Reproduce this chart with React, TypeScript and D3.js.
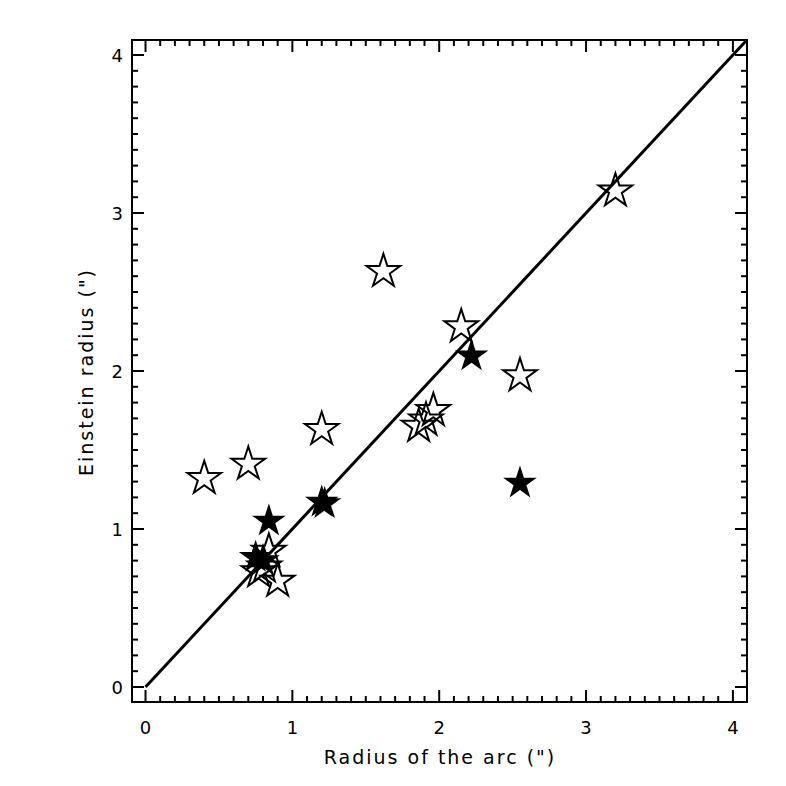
import React, { useEffect, useRef } from 'react';
import * as d3 from 'd3';

// open stars: radius of the arc vs Einstein radius
const openX = [3.2, 1.62, 2.15, 2.55, 1.96, 1.91, 1.86, 1.2, 0.4, 0.7, 0.84, 0.77, 0.81, 0.9];
const openY = [3.14, 2.63, 2.28, 1.97, 1.75, 1.69, 1.65, 1.63, 1.32, 1.41, 0.86, 0.73, 0.76, 0.67];

// filled stars
const fillX = [2.22, 2.55, 1.2, 1.22, 0.84, 0.75, 0.8];
const fillY = [2.095, 1.29, 1.17, 1.16, 1.05, 0.82, 0.8];

const tickVals = [0, 1, 2, 3, 4];

export default function App() {
  const ref = useRef<SVGSVGElement>(null);

  useEffect(() => {
    const width = 786;
    const height = 786;
    const left = 132;
    const right = 747;
    const top = 40;
    const bottom = 702;
    const font = 'DejaVu Sans, sans-serif';

    const x = d3.scaleLinear().domain([-0.092, 4.096]).range([left, right]);
    const y = d3.scaleLinear().domain([-0.095, 4.095]).range([bottom, top]);

    const svg = d3.select(ref.current).attr('viewBox', [0, 0, width, height]);
    svg.selectAll('*').remove();

    svg.append('rect').attr('width', width).attr('height', height).attr('fill', 'white');

    svg
      .append('clipPath')
      .attr('id', 'plotclip')
      .append('rect')
      .attr('x', left)
      .attr('y', top)
      .attr('width', right - left)
      .attr('height', bottom - top);

    const minor = d3.range(0, 41).map((d) => d / 10);
    const g = svg.append('g').attr('stroke', 'black').attr('stroke-width', 2);

    // ticks on all four sides
    minor.forEach((v) => {
      const major = Math.abs(v - Math.round(v)) < 1e-6;
      const len = major ? 12 : 6;
      g.append('line').attr('x1', x(v)).attr('x2', x(v)).attr('y1', bottom).attr('y2', bottom - len);
      g.append('line').attr('x1', x(v)).attr('x2', x(v)).attr('y1', top).attr('y2', top + len);
      g.append('line').attr('y1', y(v)).attr('y2', y(v)).attr('x1', left).attr('x2', left + len);
      g.append('line').attr('y1', y(v)).attr('y2', y(v)).attr('x1', right).attr('x2', right - len);
    });

    g.append('rect')
      .attr('x', left)
      .attr('y', top)
      .attr('width', right - left)
      .attr('height', bottom - top)
      .attr('fill', 'none');

    // tick labels
    svg
      .append('g')
      .selectAll('text')
      .data(tickVals)
      .enter()
      .append('text')
      .attr('x', (d) => x(d))
      .attr('y', bottom + 32)
      .attr('text-anchor', 'middle')
      .attr('font-family', font)
      .attr('font-size', 18)
      .text((d) => d);

    svg
      .append('g')
      .selectAll('text')
      .data(tickVals)
      .enter()
      .append('text')
      .attr('x', left - 9)
      .attr('y', (d) => y(d) + 7)
      .attr('text-anchor', 'end')
      .attr('font-family', font)
      .attr('font-size', 18)
      .text((d) => d);

    svg
      .append('text')
      .attr('x', 440)
      .attr('y', 764)
      .attr('text-anchor', 'middle')
      .attr('font-family', font)
      .attr('font-size', 19)
      .attr('letter-spacing', 2)
      .text('Radius of the arc (")');

    svg
      .append('text')
      .attr('transform', `translate(93,372) rotate(-90)`)
      .attr('text-anchor', 'middle')
      .attr('font-family', font)
      .attr('font-size', 19)
      .attr('letter-spacing', 2)
      .text('Einstein radius (")');

    // one-to-one line
    svg
      .append('line')
      .attr('clip-path', 'url(#plotclip)')
      .attr('x1', x(0))
      .attr('y1', y(0))
      .attr('x2', x(4.2))
      .attr('y2', y(4.2))
      .attr('stroke', 'black')
      .attr('stroke-width', 3);

    const star = d3.symbol(d3.symbolStar, 350)();

    svg
      .append('g')
      .selectAll('path')
      .data(d3.range(openX.length))
      .enter()
      .append('path')
      .attr('d', star)
      .attr('transform', (i) => `translate(${x(openX[i])},${y(openY[i])})`)
      .attr('fill', 'none')
      .attr('stroke', 'black')
      .attr('stroke-width', 2);

    svg
      .append('g')
      .selectAll('path')
      .data(d3.range(fillX.length))
      .enter()
      .append('path')
      .attr('d', star)
      .attr('transform', (i) => `translate(${x(fillX[i])},${y(fillY[i])})`)
      .attr('fill', 'black');
  });

  return (
    <svg
      ref={ref}
      width={786}
      height={786}
      style={{ position: 'absolute', left: 0, top: 0 }}
    />
  );
}
